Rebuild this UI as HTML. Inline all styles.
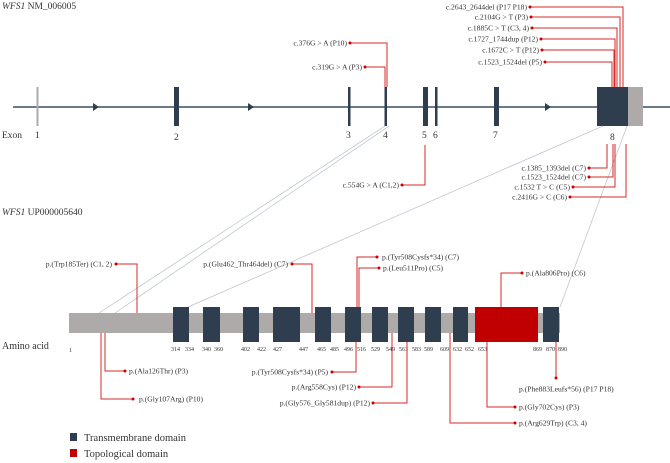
<!DOCTYPE html>
<html><head><meta charset="utf-8"><style>
html,body{margin:0;padding:0;background:#fff;}
svg{display:block;font-family:"Liberation Serif",serif;}
.l{font-size:7.6px;fill:#333;}
.n{font-size:6px;fill:#333;}
.r{stroke:#d42a2a;stroke-width:1;fill:none;}
.g{stroke:#b8c0cc;stroke-width:0.7;fill:none;}
</style></head><body>
<svg width="670" height="463" viewBox="0 0 670 463">
<text x="2" y="9" font-size="9.5" fill="#333"><tspan font-style="italic">WFS1</tspan> NM_006005</text>
<text x="2" y="215" font-size="9.5" fill="#333"><tspan font-style="italic">WFS1</tspan> UP000005640</text>
<line x1="13" y1="107" x2="670" y2="107" stroke="#3b4d60" stroke-width="1.5"/>
<polygon points="93,103 93,111 99,107" fill="#2e3e4f"/>
<polygon points="248,103 248,111 254,107" fill="#2e3e4f"/>
<polygon points="545,103 545,111 551,107" fill="#2e3e4f"/>
<rect x="36.5" y="87" width="2" height="39" fill="#aeaaaa"/>
<rect x="174" y="87" width="5" height="39" fill="#2e3e4f"/>
<rect x="348" y="87" width="2.5" height="39" fill="#2e3e4f"/>
<rect x="384.5" y="87" width="2.5" height="39" fill="#2e3e4f"/>
<rect x="423" y="87" width="5" height="39" fill="#2e3e4f"/>
<rect x="435" y="87" width="2.5" height="39" fill="#2e3e4f"/>
<rect x="494" y="87" width="5" height="39" fill="#2e3e4f"/>
<rect x="597" y="87" width="31" height="39" fill="#2e3e4f"/>
<rect x="628" y="87" width="15" height="39" fill="#aeaaaa"/>
<g font-size="9.5" fill="#333">
<text x="2" y="138">Exon</text>
<text x="35" y="138">1</text><text x="174" y="140">2</text><text x="346" y="138">3</text>
<text x="383" y="138">4</text><text x="422" y="138">5</text><text x="433" y="138">6</text>
<text x="493" y="138">7</text><text x="610" y="140">8</text>
</g>
<polyline class="g" points="385,126 99,313"/>
<polyline class="g" points="389,126 115,313"/>
<polyline class="g" points="603,126 188,307"/>
<polyline class="g" points="627,126 560,307"/>
<g class="l" text-anchor="end">
<text x="527" y="9.5">c.2643_2644del (P17 P18)</text>
<text x="528" y="19.5">c.2104G &gt; T  (P3)</text>
<text x="529" y="30.5">c.1885C &gt; T  (C3, 4)</text>
<text x="538" y="41.5">c.1727_1744dup (P12)</text>
<text x="539" y="52.5">c.1672C &gt; T  (P12)</text>
<text x="542" y="64.5">c.1523_1524del  (P5)</text>
<text x="347" y="45.5">c.376G &gt; A (P10)</text>
<text x="362" y="69.5">c.319G &gt; A (P3)</text>
<text x="399" y="187.5">c.554G &gt; A (C1,2)</text>
<text x="586" y="170.5">c.1385_1393del (C7)</text>
<text x="586" y="179.5">c.1523_1524del  (C7)</text>
<text x="570" y="189.5">c.1532 T &gt; C (C5)</text>
<text x="567" y="199.5">c.2416G &gt; C (C6)</text>
</g>
<g class="r">
<polyline points="530,7 623,7 623,87"/>
<polyline points="531,17 620,17 620,87"/>
<polyline points="532,28 617,28 617,87"/>
<polyline points="541,39 615,39 615,87"/>
<polyline points="542,50 614,50 614,87"/>
<polyline points="545,62 612,62 612,87"/>
<polyline points="350,43 387,43 387,87"/>
<polyline points="365,67 385,67 385,87"/>
<polyline points="402,185 425,185 425,145"/>
<polyline points="589,168 607,168 607,144"/>
<polyline points="589,177 613,177 613,144"/>
<polyline points="573,187 615,187 615,144"/>
<polyline points="570,197 626,197 626,144"/>
</g>
<g fill="#c00">
<circle cx="530" cy="7" r="1.5"/><circle cx="531" cy="17" r="1.5"/><circle cx="532" cy="28" r="1.5"/>
<circle cx="541" cy="39" r="1.5"/><circle cx="542" cy="50" r="1.5"/><circle cx="545" cy="62" r="1.5"/>
<circle cx="350" cy="43" r="1.5"/><circle cx="365" cy="67" r="1.5"/><circle cx="402" cy="185" r="1.5"/>
<circle cx="589" cy="168" r="1.5"/><circle cx="589" cy="177" r="1.5"/><circle cx="573" cy="187" r="1.5"/><circle cx="570" cy="197" r="1.5"/>
</g>
<rect x="69" y="313" width="491" height="20" fill="#aeaaaa"/>
<g fill="#2e3e4f">
<rect x="173" y="307" width="16" height="35"/><rect x="203" y="307" width="17" height="35"/>
<rect x="243" y="307" width="16" height="35"/><rect x="273" y="307" width="27" height="35"/>
<rect x="315" y="307" width="16" height="35"/><rect x="345" y="307" width="16" height="35"/>
<rect x="372" y="307" width="16" height="35"/><rect x="398" y="307" width="16" height="35"/>
<rect x="425" y="307" width="16" height="35"/><rect x="453" y="307" width="15" height="35"/>
<rect x="543" y="307" width="16" height="35"/>
</g>
<rect x="475" y="307" width="63" height="35" fill="#c00000"/>
<text x="2" y="349" font-size="10" fill="#333">Amino acid</text>
<g class="n">
<text x="69" y="352">1</text>
<text x="171" y="351">314</text><text x="185" y="351">334</text><text x="202" y="351">340</text><text x="214" y="351">360</text>
<text x="241" y="351">402</text><text x="257" y="351">422</text><text x="273" y="351">427</text><text x="299" y="351">447</text>
<text x="317" y="351">465</text><text x="330" y="351">485</text><text x="344" y="351">496</text><text x="357" y="351">516</text>
<text x="371" y="351">529</text><text x="386" y="351">549</text><text x="399" y="351">563</text><text x="412" y="351">583</text>
<text x="424" y="351">589</text><text x="440" y="351">609</text><text x="453" y="351">632</text><text x="465" y="351">652</text>
<text x="478" y="351">653</text><text x="533" y="351">869</text><text x="546" y="351">870</text><text x="558" y="351">890</text>
</g>
<g class="l">
<text x="112" y="266.5" text-anchor="end">p.(Trp185Ter) (C1, 2)</text>
<text x="288" y="266.5" text-anchor="end">p.(Glu462_Thr464del) (C7)</text>
<text x="382" y="259.5">p.(Tyr508Cysfs*34) (C7)</text>
<text x="383" y="270.5">p.(Leu511Pro)  (C5)</text>
<text x="526" y="275.5">p.(Ala806Pro) (C6)</text>
<text x="129" y="373.5">p.(Ala126Thr) (P3)</text>
<text x="139" y="401.5">p.(Gly107Arg) (P10)</text>
<text x="328" y="374.5" text-anchor="end">p.(Tyr508Cysfs*34) (P5)</text>
<text x="356" y="389.5" text-anchor="end">p.(Arg558Cys) (P12)</text>
<text x="370" y="405.5" text-anchor="end">p.(Gly576_Gly581dup) (P12)</text>
<text x="519" y="391.5">p.(Phe883Leufs*56) (P17 P18)</text>
<text x="519" y="409.5">p.(Gly702Cys) (P3)</text>
<text x="519" y="425.5">p.(Arg629Trp)  (C3, 4)</text>
</g>
<g class="r">
<polyline points="116,264 137,264 137,313"/>
<polyline points="292,264 312,264 312,313"/>
<polyline points="377,257 357,257 357,307"/>
<polyline points="379,268 359,268 359,307"/>
<polyline points="522,273 501,273 501,307"/>
<polyline points="125,371 105,371 105,333"/>
<polyline points="133,399 101,399 101,333"/>
<polyline points="332,372 356,372 356,342"/>
<polyline points="359,387 392,387 392,333"/>
<polyline points="373,403 407,403 407,342"/>
<polyline points="556,342 556,378"/>
<polyline points="487,342 487,407 515,407"/>
<polyline points="450,333 450,423 515,423"/>
</g>
<g fill="#c00">
<circle cx="116" cy="264" r="1.5"/><circle cx="292" cy="264" r="1.5"/><circle cx="377" cy="257" r="1.5"/>
<circle cx="379" cy="268" r="1.5"/><circle cx="522" cy="273" r="1.5"/><circle cx="125" cy="371" r="1.5"/>
<circle cx="133" cy="399" r="1.5"/><circle cx="332" cy="372" r="1.5"/><circle cx="359" cy="387" r="1.5"/>
<circle cx="373" cy="403" r="1.5"/><circle cx="556" cy="378" r="1.5"/><circle cx="515" cy="407" r="1.5"/><circle cx="515" cy="423" r="1.5"/>
</g>
<rect x="70" y="433" width="7" height="8" fill="#2e3e4f"/>
<text x="84" y="441" font-size="10.5" fill="#333">Transmembrane domain</text>
<rect x="70" y="449" width="7" height="8" fill="#c00000"/>
<text x="84" y="457" font-size="10.5" fill="#333">Topological domain</text>
</svg>
</body></html>
